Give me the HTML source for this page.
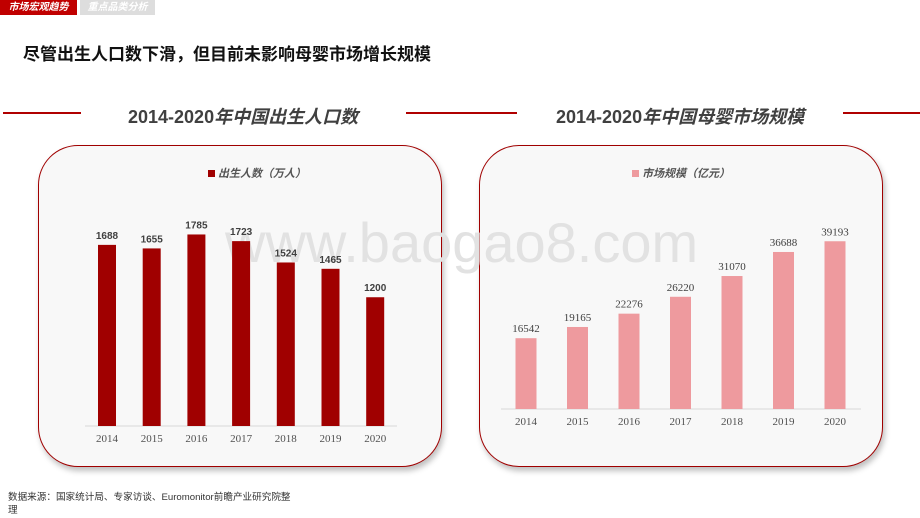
<!DOCTYPE html>
<html><head><meta charset="utf-8">
<style>
body{margin:0;width:920px;height:518px;background:#fff;overflow:hidden;position:relative;font-family:"Liberation Sans","Noto Sans CJK SC",sans-serif}
.abs{position:absolute}
</style></head><body>
<div class="abs" style="left:0;top:0;width:77px;height:15px;background:#c00000;color:#fff;font-size:10px;font-style:italic;font-weight:bold;line-height:15px;text-align:center">市场宏观趋势</div>
<div class="abs" style="left:80px;top:0;width:75px;height:15px;background:#ddd;color:#fff;font-size:10px;font-style:italic;font-weight:bold;line-height:15px;text-align:center">重点品类分析</div>
<div class="abs" style="left:23px;top:40px;font-size:17px;font-weight:bold;color:#111">尽管出生人口数下滑，但目前未影响母婴市场增长规模</div>
<div class="abs" style="left:3px;top:112px;width:78px;height:2px;background:#b00000"></div>
<div class="abs" style="left:843px;top:112px;width:77px;height:2px;background:#b00000"></div>
<div class="abs" style="left:406px;top:112px;width:111px;height:2px;background:#b00000"></div>
<div class="abs" style="left:128px;top:103px;font-size:18px;font-weight:bold;color:#404040;white-space:nowrap">2014-2020<i>年中国出生人口数</i></div>
<div class="abs" style="left:556px;top:103px;font-size:18px;font-weight:bold;color:#404040;white-space:nowrap">2014-2020<i>年中国母婴市场规模</i></div>
<div class="abs" style="left:38px;top:145px;width:402px;height:320px;border:1.5px solid #a00000;border-radius:40px;background:#f8f8f8;box-shadow:2px 4px 6px rgba(0,0,0,0.25)"></div>
<div class="abs" style="left:479px;top:145px;width:402px;height:320px;border:1.5px solid #a00000;border-radius:40px;background:#f8f8f8;box-shadow:2px 4px 6px rgba(0,0,0,0.25)"></div>
<svg class="abs" style="left:0;top:0" width="920" height="518" id="svg">
<text x="225" y="262" font-size="56" fill="#e2e2e2" font-family="Liberation Sans">www.baogao8.com</text>
<g id="left"></g><g id="right"></g>
</svg>
<div class="abs" style="left:208px;top:165px;font-size:11px;font-style:italic;font-weight:bold;color:#555"><span style="display:inline-block;width:7px;height:7px;background:#a00000;margin-right:3px"></span>出生人数（万人）</div>
<div class="abs" style="left:632px;top:165px;font-size:11px;font-style:italic;font-weight:bold;color:#555"><span style="display:inline-block;width:7px;height:7px;background:#ee9a9e;margin-right:3px"></span>市场规模（亿元）</div>
<div class="abs" style="left:8px;top:491px;width:295px;font-size:9.6px;line-height:13px;color:#333">数据来源：国家统计局、专家访谈、Euromonitor前瞻产业研究院整<br>理</div>
<script>
const years=["2014","2015","2016","2017","2018","2019","2020"];
const births=[1688,1655,1785,1723,1524,1465,1200];
const market=[16542,19165,22276,26220,31070,36688,39193];
const NS="http://www.w3.org/2000/svg";
function mk(g,t,a){const e=document.createElementNS(NS,t);for(const k in a)e.setAttribute(k,a[k]);g.appendChild(e);return e;}
function draw(gid,vals,cfg){
  const g=document.getElementById(gid);
  const ax=mk(g,'line',{x1:cfg.ax0,x2:cfg.ax1,y1:cfg.base,y2:cfg.base,stroke:'#d9d9d9','stroke-width':1});
  
  
  vals.forEach((v,i)=>{
    const cx=cfg.c0+i*cfg.step, h=v*cfg.scale;
    const r=mk(g,'rect',{x:cx-cfg.bw/2,y:cfg.base-h,width:cfg.bw,height:h,fill:cfg.color});
    
    
    const t=mk(g,'text',{x:cx,y:cfg.base-h-6,'text-anchor':'middle','font-size':cfg.lfs,fill:'#404040','font-weight':cfg.lw,'font-family':cfg.lf});
    t.textContent=v;
    
    
    const y=mk(g,'text',{x:cx,y:cfg.base+16,'text-anchor':'middle','font-size':11,fill:'#505050','font-family':'Liberation Serif'});
    y.textContent=years[i];
    
    
  });
}
draw('left',births,{ax0:85,ax1:397,base:426,c0:107,step:44.7,bw:18,scale:0.1073,color:'#a00000',lfs:10,lw:'bold',lf:'Liberation Sans'});
draw('right',market,{ax0:501,ax1:861,base:409,c0:526,step:51.5,bw:21,scale:0.00428,color:'#ee9a9e',lfs:11,lw:'normal',lf:'Liberation Serif'});
</script>
</body></html>
